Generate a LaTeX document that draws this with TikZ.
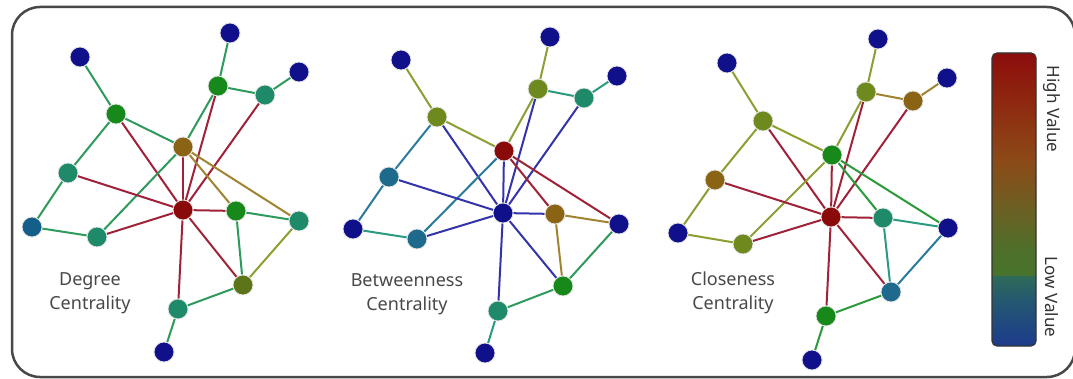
\documentclass[tikz,border=0pt]{standalone}
\usepackage{fontspec}
\setmainfont{Noto Sans}
\pgfdeclarelayer{bg}
\pgfsetlayers{bg,main}
% node colours
\definecolor{cNavy}{HTML}{10108A}
\definecolor{cGreen}{HTML}{17881A}
\definecolor{cTeal}{HTML}{1F8A6A}
\definecolor{cBrown}{HTML}{8A6414}
\definecolor{cRed}{HTML}{8A0A0A}
\definecolor{cOlive}{HTML}{6E8A1E}
\definecolor{cTealBlue}{HTML}{1E6A8C}
\definecolor{cBlueTeal}{HTML}{155E8A}
% edge colours
\definecolor{eRed}{HTML}{A02238}
\definecolor{eGreen}{HTML}{2E9A5C}
\definecolor{eBright}{HTML}{2A9A3A}
\definecolor{eOlive}{HTML}{8AA032}
\definecolor{eBrown}{HTML}{A08432}
\definecolor{eBlue}{HTML}{3434AA}
\definecolor{eTealBlue}{HTML}{2A7A9C}
\definecolor{eTeal}{HTML}{2A9A80}
% misc
\definecolor{framegray}{HTML}{484848}
\definecolor{labelgray}{HTML}{484848}
\definecolor{b1}{HTML}{8C0C0C}
\definecolor{b2}{HTML}{8E2A10}
\definecolor{b3}{HTML}{8C4A18}
\definecolor{b4}{HTML}{6E5E22}
\definecolor{b5}{HTML}{4E702A}
\definecolor{b6}{HTML}{46742C}
\definecolor{b7}{HTML}{2E6A5A}
\definecolor{b8}{HTML}{245870}
\definecolor{b9}{HTML}{1C3A8E}
\begin{document}
\begin{tikzpicture}[x=1pt,y=-1pt,
  nd/.style={circle,minimum size=20pt,inner sep=0pt,draw=white!80!gray,line width=0.8pt},
  edge/.style={line width=2pt},
  lbl/.style={font=\fontsize{18}{24}\selectfont,text=labelgray,align=center},
  barlbl/.style={font=\fontsize{17}{20}\selectfont,text=black!80,rotate=-90}]
\useasboundingbox (0,0) rectangle (1073,379);
\begin{pgfonlayer}{bg}
\fill[white] (0,0) rectangle (1073,379);
\end{pgfonlayer}
\draw[framegray,line width=2.5pt,rounded corners=28pt] (12,7) rectangle (1075,377);

% ---------- Graph 1: Degree ----------
\node[nd,fill=cNavy]     (g1A) at (80,57) {};
\node[nd,fill=cGreen]    (g1B) at (116,114) {};
\node[nd,fill=cNavy]     (g1C) at (230,33) {};
\node[nd,fill=cGreen]    (g1D) at (218,86) {};
\node[nd,fill=cTeal]     (g1E) at (265,95) {};
\node[nd,fill=cNavy]     (g1F) at (299,72) {};
\node[nd,fill=cBrown]    (g1G) at (183,147) {};
\node[nd,fill=cTeal]     (g1H) at (68,173) {};
\node[nd,fill=cRed]      (g1I) at (183,210) {};
\node[nd,fill=cGreen]    (g1J) at (236,211) {};
\node[nd,fill=cTeal]     (g1K) at (299,221) {};
\node[nd,fill=cBlueTeal] (g1L) at (32,227) {};
\node[nd,fill=cTeal]     (g1M) at (97,237) {};
\node[nd,fill=cOlive!85!black] (g1N) at (243,285) {};
\node[nd,fill=cTeal]     (g1O) at (178,309) {};
\node[nd,fill=cNavy]     (g1P) at (164,352) {};
\begin{pgfonlayer}{bg}
\foreach \a/\b/\c in {A/B/eGreen,B/G/eGreen,B/H/eGreen,B/I/eRed,C/D/eGreen,D/E/eGreen,
  E/F/eGreen,D/G/eGreen,D/I/eRed,E/I/eRed,G/I/eRed,G/M/eGreen,G/J/eBrown,G/K/eBrown,
  H/I/eRed,H/L/eGreen,L/M/eGreen,M/I/eRed,I/J/eRed,I/N/eRed,I/O/eRed,J/K/eGreen,
  J/N/eGreen,K/N/eOlive,N/O/eGreen,O/P/eGreen}
  \draw[edge,\c] (g1\a) -- (g1\b);
\end{pgfonlayer}
\node[lbl] (t1) at (90,293) {Degree\\Centrality};

% ---------- Graph 2: Betweenness ----------
\node[nd,fill=cNavy]     (g2A) at (401,60) {};
\node[nd,fill=cOlive]    (g2B) at (437,117) {};
\node[nd,fill=cNavy]     (g2C) at (550,37) {};
\node[nd,fill=cOlive]    (g2D) at (538,89) {};
\node[nd,fill=cTeal]     (g2E) at (584,98) {};
\node[nd,fill=cNavy]     (g2F) at (617,76) {};
\node[nd,fill=cRed]      (g2G) at (504,151) {};
\node[nd,fill=cTealBlue] (g2H) at (389,177) {};
\node[nd,fill=cNavy]     (g2I) at (503,213) {};
\node[nd,fill=cBrown]    (g2J) at (555,214) {};
\node[nd,fill=cNavy]     (g2K) at (619,224) {};
\node[nd,fill=cNavy]     (g2L) at (353,229) {};
\node[nd,fill=cTealBlue] (g2M) at (417,239) {};
\node[nd,fill=cGreen]    (g2N) at (563,286) {};
\node[nd,fill=cTeal]     (g2O) at (498,311) {};
\node[nd,fill=cNavy]     (g2P) at (485,353) {};
\begin{pgfonlayer}{bg}
\foreach \a/\b/\c in {A/B/eOlive,B/G/eOlive,B/H/eTealBlue,B/I/eBlue,C/D/eOlive,D/E/eTeal,
  E/F/eTeal,D/G/eOlive,D/I/eBlue,E/I/eBlue,G/I/eBlue,G/M/eTealBlue,G/J/eRed,G/K/eRed,
  H/I/eBlue,H/L/eTealBlue,L/M/eTeal,M/I/eBlue,I/J/eBlue,I/N/eBlue,I/O/eBlue,J/K/eBrown,
  J/N/eBrown,K/N/eGreen,N/O/eGreen,O/P/eTeal}
  \draw[edge,\c] (g2\a) -- (g2\b);
\end{pgfonlayer}
\node[lbl] (t2) at (407,294) {Betweenness\\Centrality};

% ---------- Graph 3: Closeness ----------
\node[nd,fill=cNavy]     (g3A) at (727,63) {};
\node[nd,fill=cOlive]    (g3B) at (763,121) {};
\node[nd,fill=cNavy]     (g3C) at (878,39) {};
\node[nd,fill=cOlive]    (g3D) at (866,92) {};
\node[nd,fill=cBrown]    (g3E) at (913,101) {};
\node[nd,fill=cNavy]     (g3F) at (947,78) {};
\node[nd,fill=cGreen]    (g3G) at (832,155) {};
\node[nd,fill=cBrown]    (g3H) at (715,180) {};
\node[nd,fill=cRed]      (g3I) at (831,217) {};
\node[nd,fill=cTeal]     (g3J) at (883,218) {};
\node[nd,fill=cNavy]     (g3K) at (948,228) {};
\node[nd,fill=cNavy]     (g3L) at (678,233) {};
\node[nd,fill=cOlive]    (g3M) at (743,244) {};
\node[nd,fill=cTealBlue] (g3N) at (891,292) {};
\node[nd,fill=cGreen]    (g3O) at (826,316) {};
\node[nd,fill=cNavy]     (g3P) at (812,360) {};
\begin{pgfonlayer}{bg}
\foreach \a/\b/\c in {A/B/eOlive,B/G/eOlive,B/H/eOlive,B/I/eRed,C/D/eOlive,D/E/eBrown,
  E/F/eBrown,D/G/eOlive,D/I/eRed,E/I/eRed,G/I/eRed,G/M/eOlive,G/J/eBright,G/K/eBright,
  H/I/eRed,H/L/eOlive,L/M/eOlive,M/I/eRed,I/J/eRed,I/N/eRed,I/O/eRed,J/K/eTeal,
  J/N/eTeal,K/N/eTealBlue,N/O/eBright,O/P/eBright}
  \draw[edge,\c] (g3\a) -- (g3\b);
\end{pgfonlayer}
\node[lbl] (t3) at (733,293) {Closeness\\Centrality};

% ---------- Colour bar ----------
\begin{scope}
\clip[rounded corners=5pt] (992,53) rectangle (1036,346);
\shade[top color=b1,bottom color=b2] (990,51) rectangle (1038,105.5);
\shade[top color=b2,bottom color=b3] (990,105) rectangle (1038,160.5);
\shade[top color=b3,bottom color=b4] (990,160) rectangle (1038,205.5);
\shade[top color=b4,bottom color=b5] (990,205) rectangle (1038,250.5);
\shade[top color=b5,bottom color=b6] (990,250) rectangle (1038,277.5);
\shade[top color=b7,bottom color=b8] (990,277) rectangle (1038,300.5);
\shade[top color=b8,bottom color=b9] (990,300) rectangle (1038,348);
\end{scope}
\draw[black!80,line width=1.2pt,rounded corners=5pt] (992,53) rectangle (1036,346);
\node[barlbl] (hv) at (1052,109) {High Value};
\node[barlbl] (lv) at (1052,297) {Low Value};
\end{tikzpicture}
\end{document}
